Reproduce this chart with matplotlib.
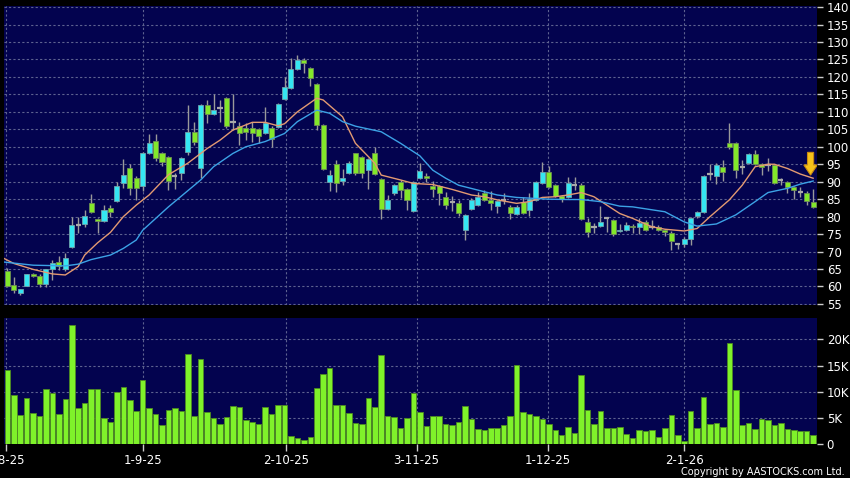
import numpy as np
import matplotlib.pyplot as plt
from matplotlib.patches import FancyArrow

# daily candles (index 0 = 1-8-25)
opens = [64.5, 60.4, 58.0, 60.1, 63.6, 63.1, 60.7, 64.9, 67.1, 64.9,
         71.4, 77.5, 77.8, 84.0, 79.2, 78.7, 82.6, 84.5, 89.7, 93.8,
         91.1, 88.8, 98.1, 101.6, 98.3, 97.0, 91.5, 92.6, 98.6, 104.3,
         93.8, 112.0, 109.4, 111.0, 114.1, 107.0, 106.0, 105.3, 105.5, 105.0,
         104.0, 105.5, 105.8, 113.8, 116.9, 122.4, 124.8, 122.6, 117.9, 106.2,
         90.0, 95.2, 90.3, 92.6, 98.1, 97.1, 93.3, 98.1, 90.9, 82.1,
         86.9, 89.8, 87.9, 81.6, 91.0, 91.6, 88.7, 88.7, 85.5, 84.3,
         83.8, 76.2, 82.1, 83.3, 86.9, 84.8, 83.0, 84.8, 82.7, 80.7,
         84.3, 81.9, 84.9, 89.7, 92.9, 89.1, 85.8, 85.7, 89.0, 89.2,
         78.4, 77.1, 77.3, 79.5, 79.0, 75.9, 76.3, 77.3, 76.9, 78.5,
         77.1, 77.1, 76.2, 75.4, 72.2, 72.2, 73.5, 80.2, 81.3, 92.2,
         91.6, 94.1, 101.0, 101.2, 94.3, 95.4, 97.9, 95.2, 94.8, 94.8,
         90.5, 90.0, 88.4, 87.1, 86.9, 84.1]
highs = [65.2, 62.8, 59.4, 63.7, 64.0, 63.5, 65.1, 67.5, 68.8, 69.6,
         79.8, 79.8, 81.9, 86.5, 79.6, 83.3, 83.3, 89.9, 96.4, 95.2,
         91.5, 98.5, 103.7, 103.7, 98.6, 97.3, 92.4, 97.2, 112.0, 107.2,
         112.3, 113.4, 115.2, 113.4, 114.3, 115.2, 107.2, 106.7, 107.2, 105.5,
         111.5, 106.0, 112.6, 120.0, 125.3, 126.4, 125.3, 122.8, 118.2, 106.5,
         93.3, 96.2, 93.5, 95.8, 98.3, 97.4, 96.7, 99.8, 91.2, 86.1,
         89.3, 90.5, 88.2, 90.3, 95.5, 92.6, 90.1, 89.0, 87.1, 85.8,
         84.8, 80.8, 85.2, 87.0, 87.6, 87.4, 84.8, 86.7, 83.4, 83.2,
         85.5, 86.7, 90.3, 95.7, 94.6, 89.4, 86.2, 91.4, 91.4, 89.5,
         79.6, 78.3, 83.0, 80.0, 79.2, 78.0, 78.5, 77.8, 79.5, 78.9,
         79.0, 77.5, 76.5, 75.8, 72.5, 74.3, 79.8, 81.5, 92.0, 95.2,
         95.3, 96.1, 106.8, 101.4, 96.2, 98.2, 99.2, 95.5, 96.8, 95.2,
         91.2, 90.3, 88.8, 88.4, 87.4, 88.0]
lows = [59.8, 58.2, 57.6, 60.0, 62.6, 59.8, 59.8, 62.0, 64.8, 64.5,
        70.9, 75.2, 77.1, 80.9, 75.2, 78.5, 80.0, 84.3, 88.1, 86.2,
        84.7, 87.4, 97.8, 96.0, 94.5, 87.6, 87.8, 90.5, 97.6, 100.5,
        91.0, 106.7, 109.0, 107.2, 105.3, 104.8, 100.5, 101.9, 101.5, 101.0,
        103.8, 99.9, 105.5, 113.5, 116.5, 122.0, 121.2, 117.5, 104.8, 93.3,
        87.4, 87.1, 89.0, 92.3, 92.0, 91.0, 88.0, 91.8, 79.4, 81.9,
        86.1, 85.4, 82.0, 81.3, 90.8, 89.8, 85.5, 83.3, 82.3, 81.5,
        80.1, 73.3, 81.8, 83.0, 84.5, 81.9, 81.0, 83.5, 79.2, 80.4,
        80.8, 80.2, 84.6, 89.4, 88.1, 85.6, 84.2, 85.4, 87.6, 78.9,
        74.3, 75.2, 77.0, 75.7, 74.6, 75.5, 75.8, 75.3, 75.0, 75.8,
        76.5, 75.9, 74.6, 70.4, 70.8, 71.3, 71.8, 79.5, 81.0, 90.5,
        89.4, 90.3, 99.5, 91.2, 92.2, 95.0, 94.8, 92.0, 93.0, 89.4,
        89.0, 86.8, 85.0, 85.5, 83.4, 82.6]
closes = [60.1, 59.0, 59.2, 63.5, 63.0, 60.6, 64.9, 66.6, 65.8, 68.3,
          77.5, 77.5, 80.2, 81.4, 78.8, 81.9, 81.2, 88.7, 91.8, 88.1,
          88.1, 98.1, 101.2, 96.7, 95.7, 90.3, 91.5, 96.7, 104.3, 101.5,
          112.0, 109.4, 110.5, 111.0, 106.0, 107.0, 103.9, 104.3, 103.9, 103.1,
          106.7, 102.2, 112.2, 117.2, 122.4, 124.8, 123.9, 119.6, 106.2, 93.5,
          91.9, 89.7, 91.0, 95.5, 92.4, 92.6, 96.4, 92.2, 82.1, 84.7,
          89.0, 87.6, 84.7, 90.0, 93.0, 91.0, 87.8, 86.9, 83.3, 84.3,
          80.9, 80.6, 84.8, 85.5, 84.8, 83.8, 84.5, 84.8, 80.9, 82.8,
          81.1, 85.1, 90.0, 92.9, 88.4, 85.9, 85.0, 89.7, 89.0, 79.2,
          75.5, 77.1, 78.4, 79.5, 75.0, 76.3, 77.5, 76.9, 78.2, 76.3,
          77.1, 76.2, 75.7, 73.1, 72.2, 73.6, 79.5, 81.2, 91.7, 92.2,
          94.8, 92.9, 100.0, 93.3, 94.3, 97.9, 95.2, 94.1, 94.8, 89.7,
          90.5, 88.4, 87.6, 87.1, 84.6, 82.8]
volume_k = [14.1, 9.3, 5.6, 8.8, 6.0, 5.3, 10.6, 9.7, 5.8, 8.7,
            22.8, 6.9, 7.9, 10.6, 10.5, 5.0, 4.3, 10.0, 11.0, 8.4,
            6.4, 12.2, 6.9, 5.8, 3.7, 6.6, 6.9, 6.4, 17.3, 5.3,
            16.3, 6.1, 4.9, 3.8, 5.1, 7.2, 7.1, 4.6, 4.2, 3.9,
            7.0, 5.7, 7.5, 7.4, 1.5, 1.2, 0.8, 1.4, 10.7, 13.3,
            14.6, 7.4, 7.5, 5.9, 4.1, 3.8, 8.8, 7.1, 17.1, 5.4,
            5.1, 3.0, 4.9, 9.8, 6.2, 3.4, 5.3, 5.4, 3.8, 3.7,
            4.2, 7.2, 4.8, 2.8, 2.6, 3.1, 3.1, 3.7, 5.3, 15.2,
            6.2, 5.8, 5.3, 4.7, 3.9, 2.6, 1.7, 3.3, 2.1, 13.2,
            6.6, 3.9, 6.3, 3.1, 3.0, 3.2, 1.9, 1.2, 2.7, 2.4,
            2.7, 1.3, 3.0, 5.6, 1.8, 0.5, 6.3, 3.1, 8.9, 3.8,
            4.1, 3.2, 19.4, 10.4, 3.6, 4.1, 2.9, 4.7, 4.6, 3.6,
            4.0, 2.8, 2.6, 2.5, 2.5, 1.8]

# moving averages at these bar indices
ma_short_idx = [-1, 1, 4, 7, 9, 11, 12, 14, 16, 18, 20, 22, 25, 28, 31, 33, 35, 38,
                40, 42, 43, 45, 48, 49, 52, 54, 57, 58, 61, 63, 66, 69, 72, 74, 76,
                79, 81, 83, 85, 87, 89, 91, 93, 95, 97, 100, 102, 105, 107, 109,
                112, 114, 116, 118, 119, 121, 123, 125]
ma_short_val = [68.5, 66.6, 64.9, 63.6, 63.3, 65.7, 69.0, 72.5, 75.5, 80.0, 83.3, 86.2,
                92.0, 95.3, 99.5, 101.9, 104.8, 107.0, 107.0, 106.0, 106.6, 110.0,
                113.9, 113.4, 108.6, 101.0, 95.3, 91.9, 90.5, 89.5, 89.2, 87.8, 86.2,
                85.7, 84.8, 83.8, 84.3, 85.5, 85.7, 86.2, 86.9, 85.7, 83.3, 80.9, 79.5,
                77.1, 76.4, 75.9, 76.6, 80.0, 84.8, 89.0, 94.3, 95.0, 95.0, 93.8,
                92.2, 91.0]
ma_long_idx = [-1, 4, 9, 11, 13, 16, 18, 20, 21, 25, 30, 32, 35, 37, 40, 43, 45, 48,
               50, 52, 54, 58, 61, 64, 66, 68, 70, 73, 76, 79, 82, 84, 87, 89, 92,
               95, 97, 102, 105, 107, 110, 113, 116, 118, 121, 123, 125]
ma_long_val = [67.1, 66.1, 65.9, 66.4, 67.7, 69.0, 70.9, 73.3, 76.1, 82.8, 90.5, 94.3,
               98.1, 100.0, 101.5, 103.8, 107.2, 110.5, 109.6, 107.2, 105.9, 104.3,
               101.0, 97.4, 93.3, 91.0, 89.0, 87.6, 86.2, 85.5, 85.2, 85.0, 84.9,
               84.9, 84.3, 83.0, 82.8, 81.4, 78.5, 77.3, 77.9, 80.5, 84.3, 86.9,
               88.1, 89.3, 90.2]

date_labels = ['1-8-25', '1-9-25', '2-10-25', '3-11-25', '1-12-25', '2-1-26']
date_pos = [-0.2, 21.1, 43.3, 63.5, 83.8, 105.0]

BG = '#03034F'
GRID = '#5E6290'
UP = '#35E6F2'
DOWN = '#82E82A'
DOJI = '#A8A8A8'
WICK = '#9A9A9A'

o = np.array(opens)
h = np.array(highs)
l = np.array(lows)
c = np.array(closes)
x = np.arange(len(o))

fig = plt.figure(figsize=(8.5, 4.78), dpi=100, facecolor='black')
ax = fig.add_axes([0.0047, 0.3619, 0.9565, 0.6255], facecolor=BG)
axv = fig.add_axes([0.0047, 0.0711, 0.9565, 0.263], facecolor=BG, sharex=ax)

for a in (ax, axv):
    for s in a.spines.values():
        s.set_visible(False)
    a.yaxis.tick_right()
    a.tick_params(axis='y', colors='#CCCCCC', labelcolor='white', length=4,
                  width=1, pad=3, labelsize=8.5)
    a.grid(True, color=GRID, linestyle=(0, (2, 2)), linewidth=0.8)
    a.set_axisbelow(True)

# price panel
ax.set_xlim(-0.51, 125.6)
ax.set_ylim(54.7, 140.3)
ax.set_yticks(np.arange(55, 141, 5))
ax.set_xticks(date_pos)
ax.tick_params(axis='x', length=0, labelbottom=False)

ax.vlines(x, l, h, color=WICK, linewidth=1, zorder=2)
up = c > o
down = c < o
flat = c == o
ax.bar(x[up], (c - o)[up], bottom=o[up], width=0.78, color=UP,
       edgecolor='#6FA4AC', linewidth=0.6, zorder=3)
ax.bar(x[down], (o - c)[down], bottom=c[down], width=0.78, color=DOWN,
       edgecolor='#6E8E55', linewidth=0.6, zorder=3)
ax.hlines(c[flat], x[flat] - 0.4, x[flat] + 0.4, color=DOJI, linewidth=1.6, zorder=3)

ax.plot(ma_short_idx, ma_short_val, color='#E39A72', linewidth=1.0, zorder=4)
ax.plot(ma_long_idx, ma_long_val, color='#3CA2E6', linewidth=1.0, zorder=4)

ax.add_patch(FancyArrow(124.6, 98.4, 0, -3.6, width=0.95, head_width=2.1,
                        head_length=2.9, length_includes_head=False,
                        facecolor='#F6C21A', edgecolor='#C98A10', linewidth=0.8,
                        zorder=5))

# volume panel
axv.set_ylim(0, 24.05)
axv.set_yticks([0, 5, 10, 15, 20])
axv.set_yticklabels(['0', '5K', '10K', '15K', '20K'])
axv.bar(x, volume_k, width=0.86, color='#7FF22A', edgecolor='#4E8A22',
        linewidth=0.6, zorder=3)
axv.set_xticks(date_pos)
axv.set_xticklabels(date_labels)
axv.tick_params(axis='x', colors='#CCCCCC', labelcolor='white', length=5,
                width=1, pad=2, labelsize=8.5)

fig.text(0.994, 0.002, 'Copyright by AASTOCKS.com Ltd.', color='white',
         fontsize=7, ha='right', va='bottom')

fig.savefig('out.png', dpi=100, facecolor='black')
